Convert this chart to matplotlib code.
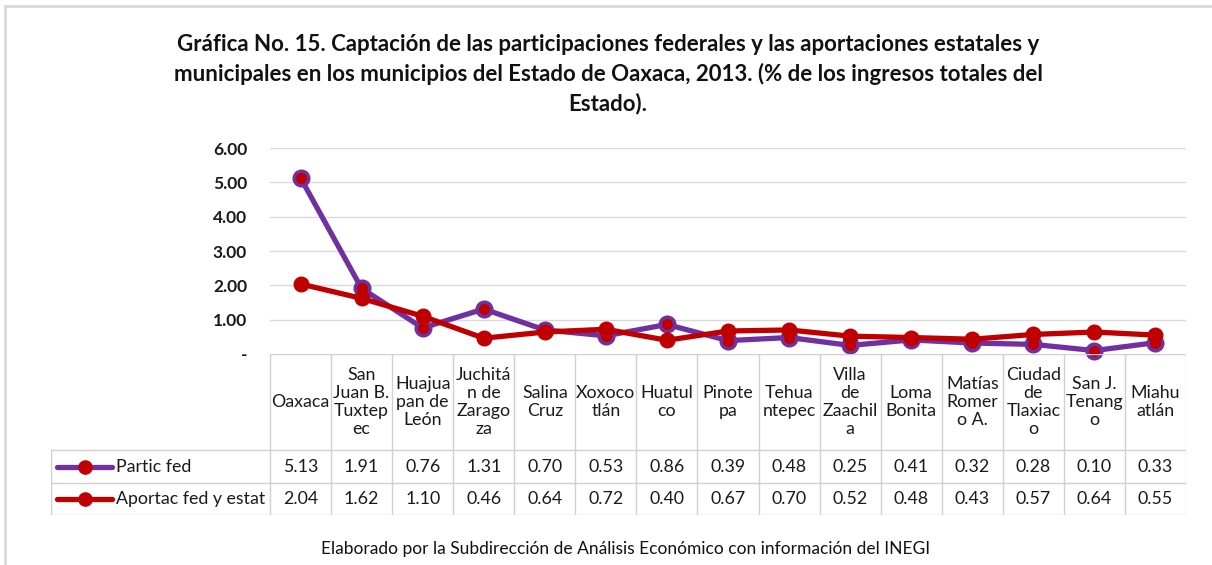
import matplotlib
matplotlib.use("Agg")
import matplotlib.pyplot as plt
import numpy as np

plt.rcParams['font.family'] = ['Lato', 'DejaVu Sans']

categories = ["Oaxaca", "San\nJuan B.\nTuxtep\nec", "Huajua\npan de\nLeón", "Juchitá\nn de\nZarago\nza",
              "Salina\nCruz", "Xoxoco\ntlán", "Huatul\nco", "Pinote\npa", "Tehua\nntepec",
              "Villa\nde\nZaachil\na", "Loma\nBonita", "Matías\nRomer\no A.", "Ciudad\nde\nTlaxiac\no",
              "San J.\nTenang\no", "Miahu\natlán"]
partic_fed = [5.13, 1.91, 0.76, 1.31, 0.70, 0.53, 0.86, 0.39, 0.48, 0.25, 0.41, 0.32, 0.28, 0.10, 0.33]
aportac = [2.04, 1.62, 1.10, 0.46, 0.64, 0.72, 0.40, 0.67, 0.70, 0.52, 0.48, 0.43, 0.57, 0.64, 0.55]
series_names = ["Partic fed", "Aportac fed y estat"]
yticks = [0, 1, 2, 3, 4, 5, 6]
ytick_labels = ["-", "1.00", "2.00", "3.00", "4.00", "5.00", "6.00"]

title = ("Gráfica No. 15. Captación de las participaciones federales y las aportaciones estatales y\n"
         "municipales en los municipios del Estado de Oaxaca, 2013. (% de los ingresos totales del\n"
         "Estado).")
footer = "Elaborado por la Subdirección de Análisis Económico con información del INEGI"

PURPLE = "#7030A0"
RED = "#C00000"
GRID = "#d9d9d9"
TXT = "#1a1a1a"

W, H = 1212, 565
fig = plt.figure(figsize=(W / 100, H / 100), dpi=100)

def px(x0, y0, x1, y1):
    return [x0 / W, (H - y1) / H, (x1 - x0) / W, (y1 - y0) / H]

# outer frame (top & left border)
fig.add_artist(plt.Line2D([5 / W, 1], [1 - 6 / H, 1 - 6 / H], color=GRID, lw=2))
fig.add_artist(plt.Line2D([5 / W, 5 / W], [0, 1 - 6 / H], color=GRID, lw=2))

n = len(categories)
x = np.arange(n)

ax = fig.add_axes(px(270, 148, 1186, 354))
ax.set_xlim(-0.5, n - 0.5)
ax.set_ylim(0, 6)
ax.set_yticks(yticks)
ax.set_yticklabels(ytick_labels, fontsize=12.5, fontweight='bold', color=TXT)
ax.set_xticks([])
for s in ax.spines.values():
    s.set_visible(False)
ax.tick_params(axis='y', length=0, pad=16.5)
for yv in yticks[1:]:
    ax.axhline(yv, color=GRID, lw=1, zorder=0)

ax.plot(x, partic_fed, color=PURPLE, lw=3.8, marker='o', ms=10.5,
        markerfacecolor=RED, markeredgecolor=PURPLE, markeredgewidth=2.5, zorder=3, clip_on=False)
ax.plot(x, aportac, color=RED, lw=3.8, marker='o', ms=10.5,
        markerfacecolor=RED, markeredgecolor=RED, zorder=4, clip_on=False)

# data table
tx0, tx1 = 51, 1186
ty0, ty1 = 354, 515
catw = (1186 - 270) / n
xl = -0.5 - (270 - tx0) / catw
tab = fig.add_axes(px(tx0, ty0, tx1, ty1))
tab.set_xlim(xl, n - 0.5)
tab.set_ylim(ty1 - ty0, 0)
tab.axis('off')

r_head = 450 - ty0
r_1 = 483 - ty0
r_2 = ty1 - ty0
lc = "#d0d0d0"
tab.plot([-0.5, n - 0.5], [0, 0], color=lc, lw=1)
for yy in (r_head, r_1, r_2):
    tab.plot([xl, n - 0.5], [yy, yy], color=lc, lw=1)
for k in range(n + 1):
    tab.plot([k - 0.5, k - 0.5], [0, r_2], color=lc, lw=1)
tab.plot([xl, xl], [r_head, r_2], color=lc, lw=1)

FS = 12.8
for i, c in enumerate(categories):
    tab.text(i, r_head / 2, c, ha='center', va='center', fontsize=FS,
             color=TXT, linespacing=1.15)
    tab.text(i, (r_head + r_1) / 2, f"{partic_fed[i]:.2f}", ha='center', va='center',
             fontsize=FS, color=TXT)
    tab.text(i, (r_1 + r_2) / 2, f"{aportac[i]:.2f}", ha='center', va='center',
             fontsize=FS, color=TXT)

def dx(p):
    return xl + (p - tx0) / catw

for (name, col, edge), yy in zip([(series_names[0], PURPLE, PURPLE), (series_names[1], RED, RED)],
                                  [(r_head + r_1) / 2, (r_1 + r_2) / 2]):
    tab.plot([dx(57), dx(112)], [yy, yy], color=col, lw=3.8, solid_capstyle='round')
    tab.plot([dx(85)], [yy], marker='o', ms=9.5, markerfacecolor=RED, markeredgecolor=RED,
             markeredgewidth=1)
    tab.text(dx(116), yy, name, ha='left', va='center', fontsize=FS, color=TXT)

fig.text(608 / W, 1 - 74 / H, title, ha='center', va='center', fontsize=16,
         fontweight='bold', linespacing=1.42, color='#111111')
fig.text(626 / W, 1 - 549 / H, footer, ha='center', va='center', fontsize=12.5, color='#111111')

fig.savefig("out.png", dpi=100)
